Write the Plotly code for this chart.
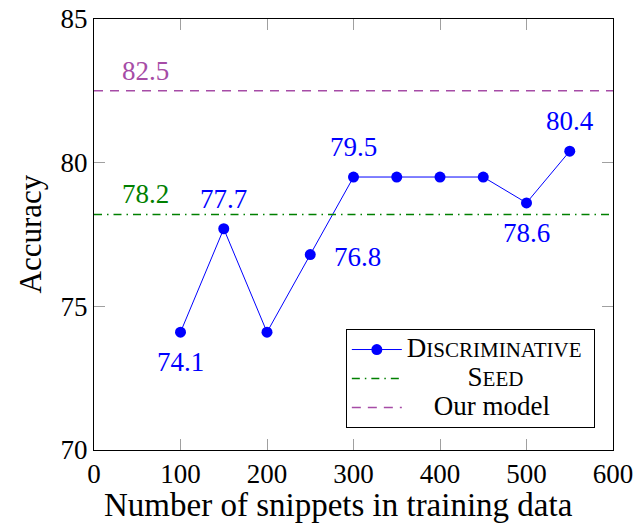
import plotly.graph_objects as go

# Data
snippets = [100, 150, 200, 250, 300, 350, 400, 450, 500, 550]
accuracy = [74.1, 77.7, 74.1, 76.8, 79.5, 79.5, 79.5, 79.5, 78.6, 80.4]
point_labels = ["74.1", "77.7", "", "76.8", "79.5", "", "", "", "78.6", "80.4"]
seed_value = 78.2
our_model_value = 82.5
x_span = [0, 600]
x_ticks = [0, 100, 200, 300, 400, 500, 600]
y_ticks = [70, 75, 80, 85]

# Styles: label placement (xshift, yshift) relative to each point
label_shift = {"above": (0, 30), "below": (0, -30), "right": (47, -2)}
label_place = ["below", "above", None, "right", "above", None, None, None, "below", "above"]
FONT = "Liberation Serif"
FS = 27
TITLE_FS = 31
XTITLE_FS = 33
BLUE = "#0000ff"
GREEN = "#008000"
PURPLE = "#a64ca6"


def big(s):
    return "<span style='font-size:27px'>" + s + "</span>"


def small(s):
    return "<span style='font-size:21px'>" + s + "</span>"


NB = "\u00a0"

fig = go.Figure()
fig.add_trace(go.Scatter(
    x=snippets, y=accuracy, mode="lines+markers",
    line=dict(color=BLUE, width=1),
    marker=dict(color=BLUE, size=11),
    name=big("D") + small("ISCRIMINATIVE") + big(NB),
))
fig.add_trace(go.Scatter(
    x=x_span, y=[seed_value] * 2, mode="lines",
    line=dict(color=GREEN, width=1.5, dash="8px,5px,1.5px,5px"),
    name=big(NB * 9 + "S") + small("EED"),
))
fig.add_trace(go.Scatter(
    x=x_span, y=[our_model_value] * 2, mode="lines",
    line=dict(color=PURPLE, width=1.5, dash="9px,7px"),
    name=big(NB * 4 + "Our model"),
))

for xv, yv, lab, place in zip(snippets, accuracy, point_labels, label_place):
    if not lab or place is None:
        continue
    dx, dy = label_shift[place]
    fig.add_annotation(x=xv, y=yv, text=lab, showarrow=False, xshift=dx, yshift=dy,
                       font=dict(family=FONT, size=FS, color=BLUE))

fig.add_annotation(x=60, y=seed_value, text=f"{seed_value}", showarrow=False,
                   yanchor="middle", yshift=20, font=dict(family=FONT, size=FS, color=GREEN))
fig.add_annotation(x=60, y=our_model_value, text=f"{our_model_value}", showarrow=False,
                   yanchor="middle", yshift=20, font=dict(family=FONT, size=FS, color=PURPLE))

# Axis titles
fig.add_annotation(xref="paper", yref="paper", x=0.472, y=0, yshift=-55,
                   text="Number of snippets in training data",
                   showarrow=False, yanchor="middle", font=dict(family=FONT, size=XTITLE_FS, color="black"))
fig.add_annotation(xref="paper", yref="paper", x=0, y=0.5, xshift=-64, text="Accuracy", textangle=-90,
                   showarrow=False, xanchor="center", font=dict(family=FONT, size=TITLE_FS, color="black"))

axis_common = dict(
    showgrid=False, zeroline=False, showline=True, linecolor="black", linewidth=1,
    mirror="ticks", ticks="inside", ticklen=11, tickcolor="#a0a0a0", tickwidth=1,
    tickfont=dict(family=FONT, size=FS, color="black"), automargin=False,
    ticklabeloverflow="allow",
)
fig.update_xaxes(range=[0, 600], tickvals=x_ticks, **axis_common)
fig.update_yaxes(range=[70, 85], tickvals=y_ticks, **axis_common)

fig.update_layout(
    width=635, height=523,
    margin=dict(l=94, r=22, t=19, b=73),
    plot_bgcolor="white", paper_bgcolor="white",
    font=dict(family=FONT, size=FS, color="black"),
    showlegend=True,
    legend=dict(x=0.965, y=0.051, xanchor="right", yanchor="bottom",
                bgcolor="white", bordercolor="black", borderwidth=1,
                font=dict(family=FONT, size=20, color="black"),
                tracegroupgap=0, itemwidth=50),
)
fig.write_html("out.html", config={"displayModeBar": False},
               post_script="document.body.style.margin='0';")
